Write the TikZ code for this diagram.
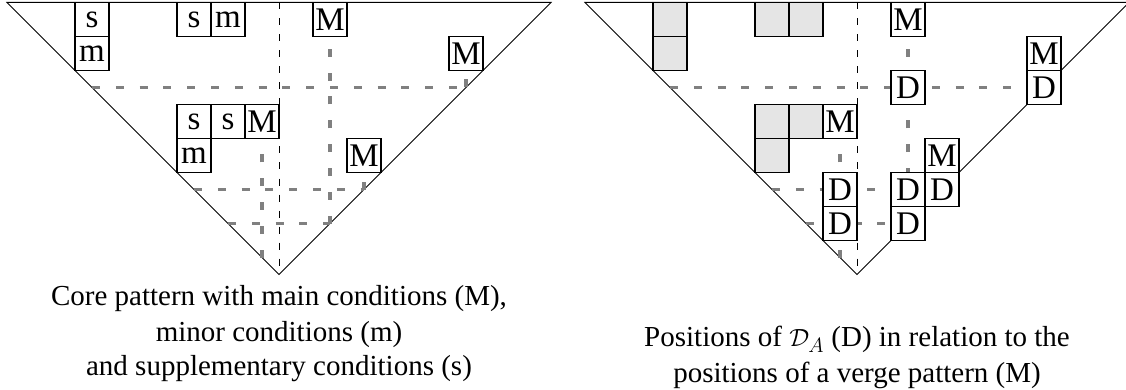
\documentclass[tikz,border=0pt]{standalone}
\usepackage{fontspec}
\setmainfont{Liberation Serif}
\begin{document}
\begin{tikzpicture}[x=34pt,y=-34pt,
  cell/.style={draw=black, line width=1.1pt, fill=white, minimum size=34pt,
    inner sep=0pt, font=\fontsize{33}{40}\selectfont},
  shaded/.style={cell, fill=gray!20},
  edge/.style={line width=1pt, black},
  axis/.style={line width=1pt, black, dash pattern=on 7pt off 9pt},
  hook/.style={line width=3.4pt, gray, dash pattern=on 8pt off 15.8pt},
  caption/.style={font=\fontsize{29}{35}\selectfont, anchor=base, inner sep=0pt},
  verge/.pic={
    % staircase outline and its axis
    \draw[edge] (0,0) -- (16,0) -- (8,8) -- cycle;
    \draw[axis] (8,0) -- (8,8);
    % main conditions
    \node[cell] (-M1) at (9.5,0.5) {M};
    \node[cell] (-M2) at (13.5,1.5) {M};
    \node[cell] (-M3) at (7.5,3.5) {M};
    \node[cell] (-M4) at (10.5,4.5) {M};
    % where the paths below the main conditions meet the outline
    \coordinate (-a1) at (2.5,2.5);
    \coordinate (-b1) at (13.5,2.5);
    \coordinate (-a2) at (5.5,5.5);
    \coordinate (-b2) at (10.5,5.5);
    \coordinate (-a3) at (6.5,6.5);
    \coordinate (-b3) at (9.5,6.5);
    \coordinate (-a4) at (7.5,7.5);
    \draw[hook] (-a1) -- (-b1);
    \draw[hook] (-b1) -- (-M2);
    \draw[hook] (-a2) -- (-b2);
    \draw[hook] (-b2) -- (-M4);
    \draw[hook] (-a3) -- (-b3);
    \draw[hook] (-b3) -- (-M1);
    \draw[hook] (-a4) -- (-M3);
  }
]
\useasboundingbox (-7/34,-2.5/34) rectangle (1119/34,387.5/34);

% core pattern
\pic (L) at (0,0) {verge};
\node[cell] (L-s1) at (2.5,0.5) {s};
\node[cell] (L-m1) at (2.5,1.5) {m};
\node[cell] (L-s2) at (5.5,0.5) {s};
\node[cell] (L-m2) at (6.5,0.5) {m};
\node[cell] (L-s3) at (5.5,3.5) {s};
\node[cell] (L-s4) at (6.5,3.5) {s};
\node[cell] (L-m3) at (5.5,4.5) {m};

\node[caption] (capL1) at (8,8.926) {Core pattern with main conditions (M),};
\node[caption] (capL2) at (8,9.956) {minor conditions (m)};
\node[caption] (capL3) at (8,10.985) {and supplementary conditions (s)};

% verge pattern with the positions of D_A
\begin{scope}[xshift=578pt]
\pic (R) at (0,0) {verge};
\node[shaded] (R-g1) at (2.5,0.5) {};
\node[shaded] (R-g2) at (2.5,1.5) {};
\node[shaded] (R-g3) at (5.5,0.5) {};
\node[shaded] (R-g4) at (6.5,0.5) {};
\node[shaded] (R-g5) at (5.5,3.5) {};
\node[shaded] (R-g6) at (6.5,3.5) {};
\node[shaded] (R-g7) at (5.5,4.5) {};
\node[cell] (R-D1) at (9.5,2.5) {D};
\node[cell] (R-D2) at (13.5,2.5) {D};
\node[cell] (R-D3) at (7.5,5.5) {D};
\node[cell] (R-D4) at (9.5,5.5) {D};
\node[cell] (R-D5) at (10.5,5.5) {D};
\node[cell] (R-D6) at (7.5,6.5) {D};
\node[cell] (R-D7) at (9.5,6.5) {D};

\node[caption] (capR1) at (8,10.13) {Positions of $\mathcal{D}_A$ (D) in relation to the};
\node[caption] (capR2) at (8,11.19) {positions of a verge pattern (M)};
\end{scope}
\end{tikzpicture}
\end{document}
